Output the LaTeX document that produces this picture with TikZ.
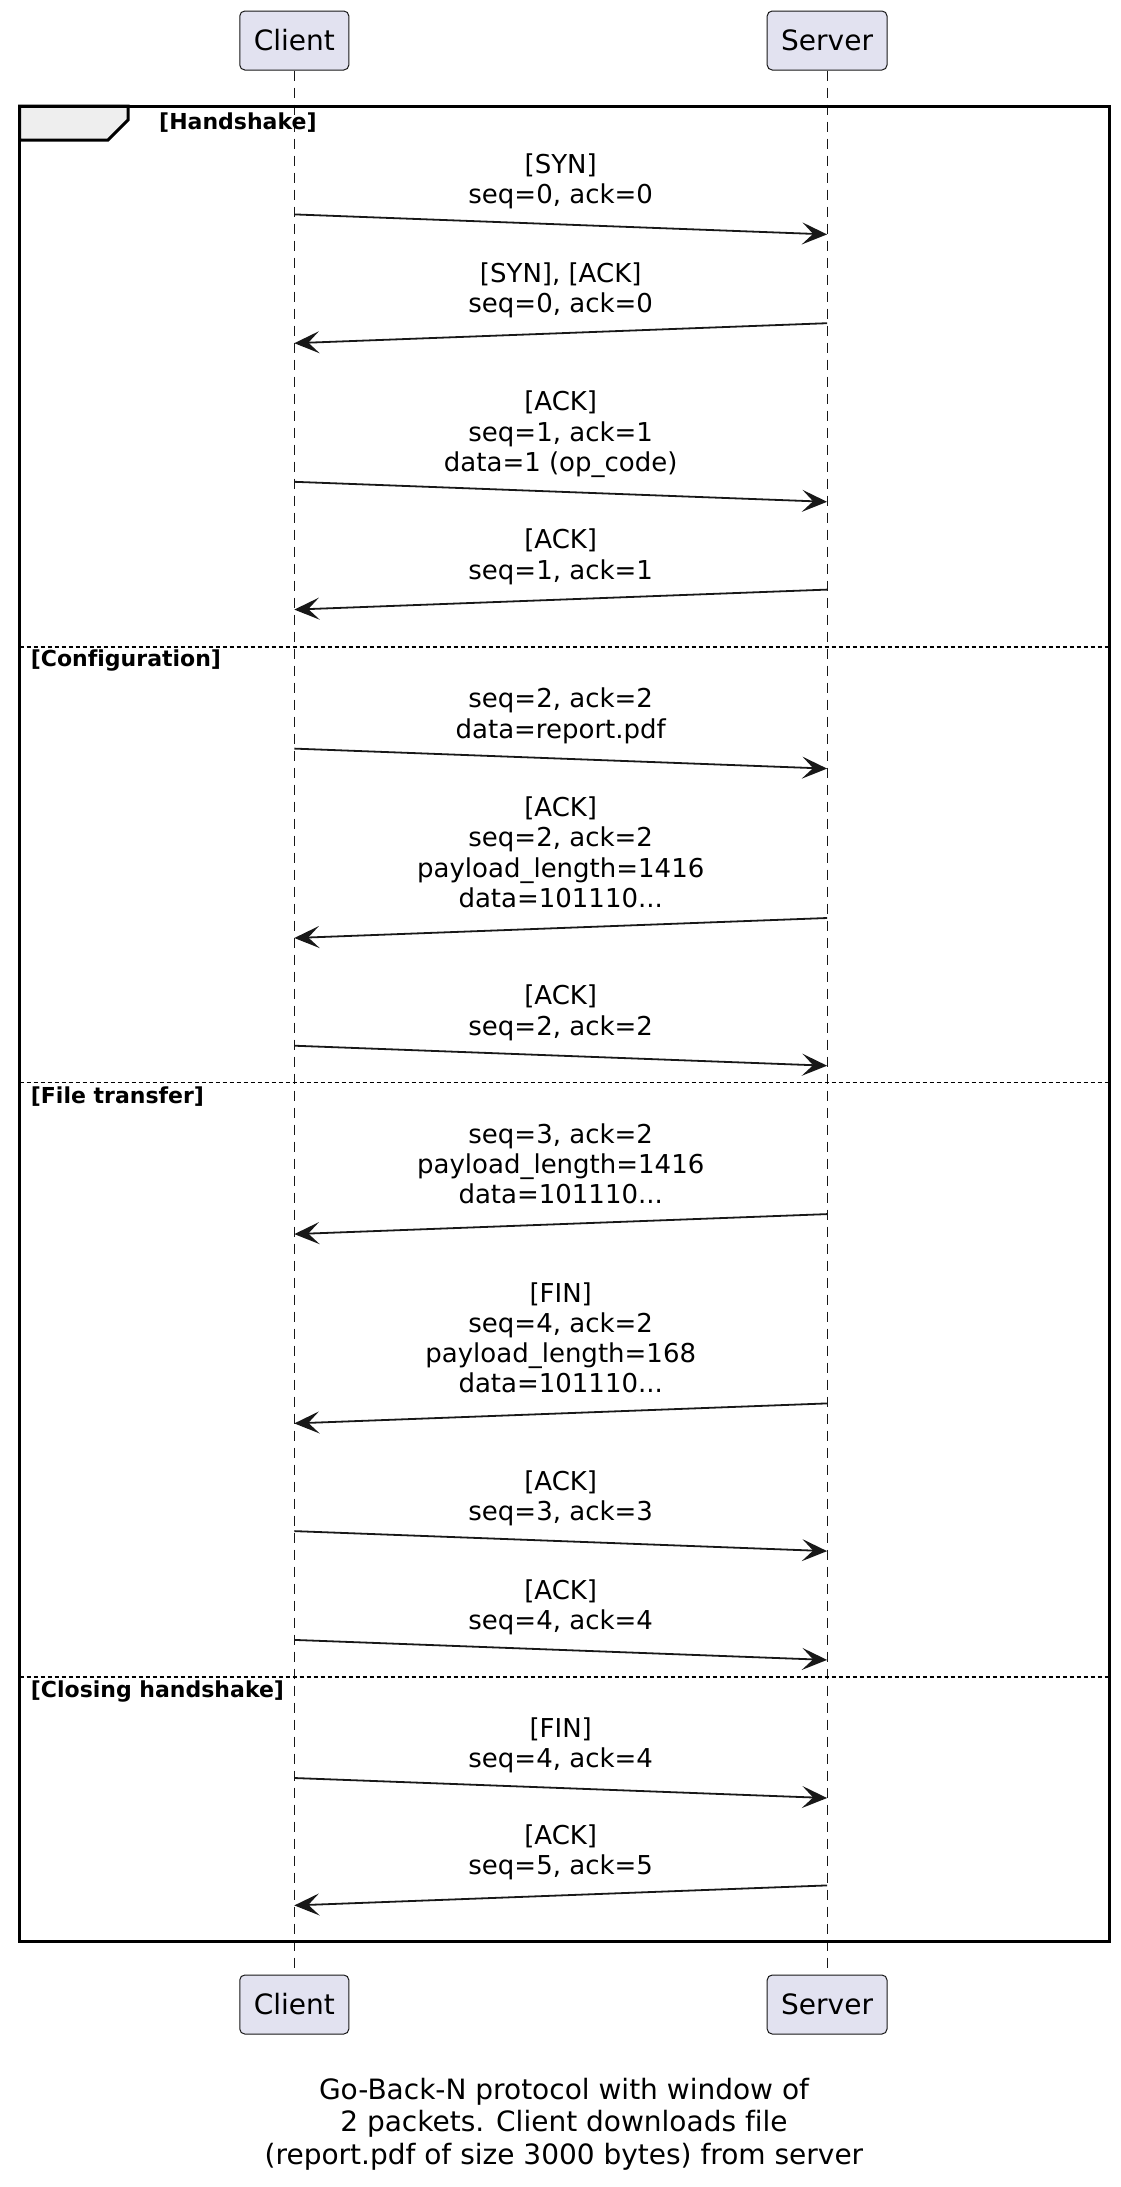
\documentclass[tikz,border=0pt]{standalone}
\usepackage{fontspec}
\setmainfont{DejaVu Sans}[Ligatures=NoCommon]
\usetikzlibrary{arrows.meta}
\definecolor{ink}{HTML}{181818}
\definecolor{partfill}{HTML}{E2E2F0}
\definecolor{tabfill}{HTML}{EEEEEE}

\tikzset{
  participant/.style={draw=ink, fill=partfill, line width=1pt, rounded corners=5pt,
    inner xsep=14pt, inner ysep=0pt, minimum height=59pt,
    font=\fontsize{28}{32}\selectfont},
  lifeline/.style={draw=ink, line width=1pt, dash pattern=on 10pt off 7pt},
  msg/.style={align=center, inner sep=0pt, font=\fontsize{26}{30.3}\selectfont},
  arr/.style={draw=ink, line width=1.8pt,
    -{Stealth[length=25pt, width=22pt, inset=11pt]}},
  grouplabel/.style={inner sep=0pt, anchor=base west,
    font=\fontsize{22}{26}\selectfont\bfseries},
  separator/.style={draw=black, line width=1.8pt, dash pattern=on 4pt off 3pt},
  frameline/.style={draw=black, line width=3pt},
  caption/.style={align=center, inner sep=0pt, font=\fontsize{28}{32.8}\selectfont}
}

% lifeline positions
\def\cx{294.3}
\def\sx{827.1}
\def\mx{560.7}

% client -> server message: name, arrow start height, text
% (the label's last line sits just above the arrow)
\newcommand{\msgCS}[3]{%
  \node[msg, anchor=base] (#1) at (\mx,#2-10.5) {#3};
  \coordinate (#1from) at (\cx,#2);
  \coordinate (#1to) at (\sx,#2+20);
  \draw[arr] (#1from) -- (#1to);
}
% server -> client message
\newcommand{\msgSC}[3]{%
  \node[msg, anchor=base] (#1) at (\mx,#2-10.5) {#3};
  \coordinate (#1from) at (\sx,#2);
  \coordinate (#1to) at (\cx,#2+20);
  \draw[arr] (#1from) -- (#1to);
}

\begin{document}
\begin{tikzpicture}[x=1pt,y=-1pt]
\useasboundingbox (0,0) rectangle (1120,2187);

% participants
\node[participant] (clientTop) at (\cx,40.5) {Client};
\node[participant] (serverTop) at (\sx,40.5) {Server};
\node[participant] (clientBot) at (\cx,2004.5) {Client};
\node[participant] (serverBot) at (\sx,2004.5) {Server};

% lifelines
\draw[lifeline] (clientTop.south) -- (clientBot.north);
\draw[lifeline] (serverTop.south) -- (serverBot.north);

% group frame with its tab
\draw[frameline, fill=tabfill] (19.5,106) -- (128,106) -- (128,120) -- (108,140) -- (19.5,140) -- cycle;
\draw[frameline] (19.5,106) rectangle (1109,1941.5);
\node[grouplabel] (gHandshake) at (159,129.7) {[Handshake]};

% separators
\coordinate (sepAl) at (19.5,647.2);   \coordinate (sepAr) at (1109,647.2);
\coordinate (sepBl) at (19.5,1082.4);  \coordinate (sepBr) at (1109,1082.4);
\coordinate (sepCl) at (19.5,1676.6);  \coordinate (sepCr) at (1109,1676.6);
\draw[separator] (sepAl) -- (sepAr);
\draw[separator] (sepBl) -- (sepBr);
\draw[separator] (sepCl) -- (sepCr);
\node[grouplabel] (gConfig) at (30.7,666.7) {[Configuration]};
\node[grouplabel] (gTransfer) at (30.7,1103.3) {[File transfer]};
\node[grouplabel] (gClosing) at (30.7,1697.5) {[Closing handshake]};

% messages
\msgCS{mA}{214.4}{[SYN]\\seq=0, ack=0}
\msgSC{mB}{323.2}{[SYN], [ACK]\\seq=0, ack=0}
\msgCS{mC}{481.8}{[ACK]\\seq=1, ack=1\\data=1 (op\_code)}
\msgSC{mD}{589.6}{[ACK]\\seq=1, ack=1}
\msgCS{mE}{748.6}{seq=2, ack=2\\data=report.pdf}
\msgSC{mF}{918}{[ACK]\\seq=2, ack=2\\payload\_length=1416\\data=101110...}
\msgCS{mG}{1045.7}{[ACK]\\seq=2, ack=2}
\msgSC{mH}{1214.1}{seq=3, ack=2\\payload\_length=1416\\data=101110...}
\msgSC{mI}{1403.4}{[FIN]\\seq=4, ack=2\\payload\_length=168\\data=101110...}
\msgCS{mJ}{1531.1}{[ACK]\\seq=3, ack=3}
\msgCS{mK}{1639.9}{[ACK]\\seq=4, ack=4}
\msgCS{mL}{1778}{[FIN]\\seq=4, ack=4}
\msgSC{mM}{1885.4}{[ACK]\\seq=5, ack=5}

% caption
\node[caption, anchor=base] (cap) at (564,2164.6) {Go-Back-N protocol with window of\\2 packets. Client downloads file\\(report.pdf of size 3000 bytes) from server};
\end{tikzpicture}
\end{document}
